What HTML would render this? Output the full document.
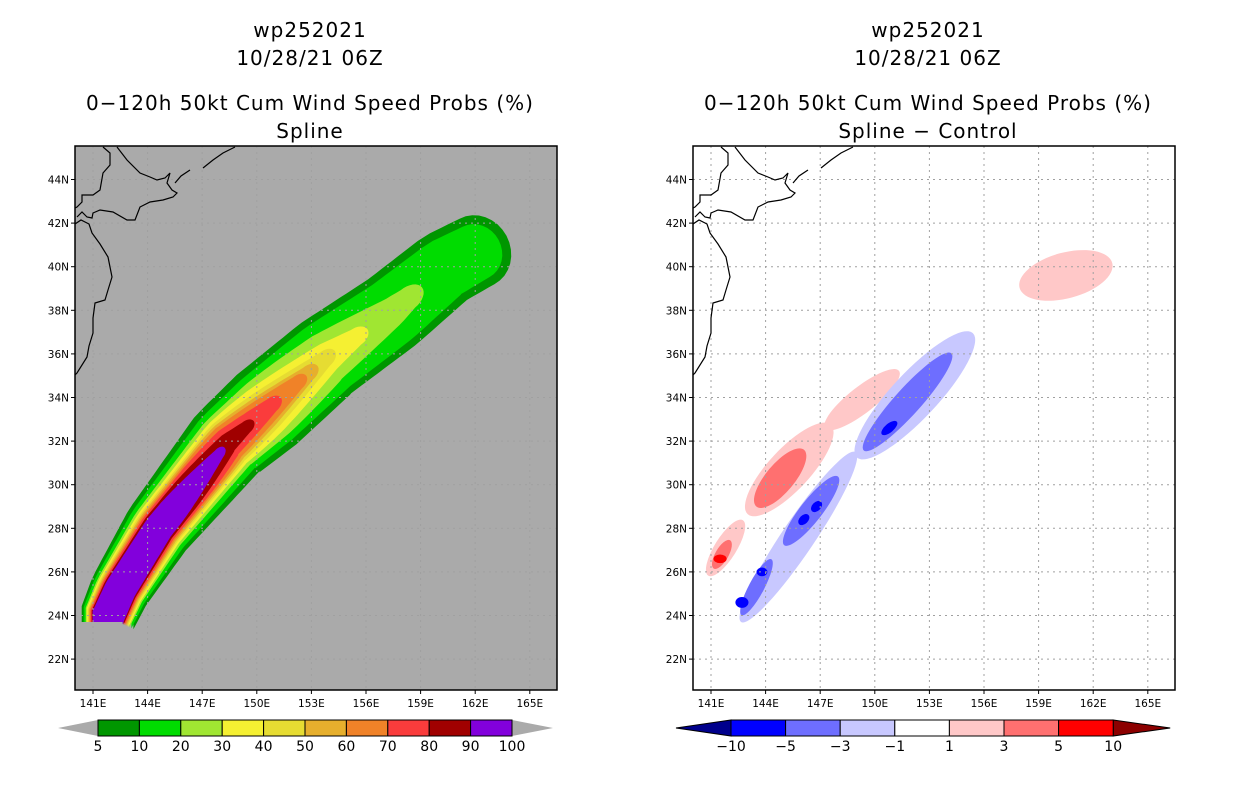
<!DOCTYPE html>
<html><head><meta charset="utf-8"><style>
body{margin:0;background:#fff}
svg{display:block}
text{font-family:"DejaVu Sans","Liberation Sans",sans-serif;fill:#000}
.t{font-size:20px;letter-spacing:1px}
.tk{font-size:10.5px}
.cb{font-size:14px}
</style></head><body>
<svg id="s" width="1236" height="800" viewBox="0 0 1236 800">
<g id="titles">
<text class="t" x="310" y="37" text-anchor="middle">wp252021</text>
<text class="t" x="310" y="65" text-anchor="middle">10/28/21 06Z</text>
<text class="t" x="310" y="110" text-anchor="middle">0−120h 50kt Cum Wind Speed Probs (%)</text>
<text class="t" x="310" y="138" text-anchor="middle">Spline</text>
<text class="t" x="928" y="37" text-anchor="middle">wp252021</text>
<text class="t" x="928" y="65" text-anchor="middle">10/28/21 06Z</text>
<text class="t" x="928" y="110" text-anchor="middle">0−120h 50kt Cum Wind Speed Probs (%)</text>
<text class="t" x="928" y="138" text-anchor="middle">Spline − Control</text>
</g>
</svg>
<script>
// ---- data ----
const lonTicks=[141,144,147,150,153,156,159,162,165];
const latTicks=[22,24,26,28,30,32,34,36,38,40,42,44];
const trackLon=[141.8,142.5,144.6,148.4,153.8,157.4,160.3,162.1];
const trackLat=[23.9,25.2,28.0,31.9,35.8,37.9,39.9,40.7];
const probLevels=[5,10,20,30,40,50,60,70,80,90];
const probEndLon=[162.1,162.0,158.3,155.4,153.7,152.8,152.2,150.8,149.4,147.9];
const probW0=[1.3,1.2,1.1,1.05,1.0,0.95,0.9,0.85,0.8,0.75];
const probWm=[2.1,1.8,1.5,1.3,1.15,1.05,0.95,0.85,0.7,0.55];
const probW1=[1.7,1.45,1.2,1.0,0.9,0.85,0.8,0.7,0.6,0.5];
const tipTaper=[0,0.1,0.6,0.65,0.65,0.65,0.65,0.6,0.6,0.6];
const probColors=['#009600','#00dc00','#a0e632','#f5f032','#e6dc32','#e6af2d','#f08228','#fa3c3c','#a00000','#8200dc'];
const probLabels=['5','10','20','30','40','50','60','70','80','90','100'];
const diffLabels=['-10','-5','-3','-1','1','3','5','10'];
const diffColors=['#0000ff','#6e6eff','#c8c8ff','#ffffff','#ffc8c8','#ff7070','#ff0000'];
// blobs: lon, lat, length(deg), width(deg), tilt(deg), level index into diffColors
const blobLon=[145.3,149.3,144.8,141.8,141.6,141.5,160.5,145.8,143.5,146.5,142.7,143.8,146.1,146.8,152.2,151.8,150.8];
const blobLat=[30.7,33.9,30.3,27.1,26.8,26.6,39.6,27.6,25.3,28.8,24.6,26.0,28.4,29.0,34.1,33.8,32.6];
const blobLen=[5.6,4.3,3.4,3.0,1.5,0.6,4.4,9.4,2.9,4.0,0.6,0.5,0.6,0.6,7.8,6.0,0.9];
const blobWid=[1.9,1.2,1.3,1.0,0.6,0.4,2.1,1.5,0.7,1.0,0.5,0.4,0.4,0.4,2.1,1.2,0.4];
const blobTilt=[-47,-38,-50,-58,-60,0,-15,-56,-62,-52,0,0,-45,-45,-47,-48,-40];
const blobLev=[4,4,5,4,5,6,4,2,1,1,0,0,0,0,2,1,0];

const NS='http://www.w3.org/2000/svg';
const svg=document.getElementById('s');
function mk(tag,attrs,parent){const e=document.createElementNS(NS,tag);for(const k in attrs)e.setAttribute(k,attrs[k]);(parent||svg).appendChild(e);return e;}
const panels=[{x0:75,name:'left'},{x0:693,name:'right'}];
const PW=482,PT=146,PH=544;
function xS(p,lon){return p.x0+18+(lon-141)*18.2;}
function yS(lat){return 179.5+(44-lat)*21.8;}

panels.forEach((p,pi)=>{
  const g=mk('g',{});
  
  
  const cid='clip'+pi;
  const cp=mk('clipPath',{id:cid},g);mk('rect',{x:p.x0,y:PT,width:PW,height:PH},cp);
  const bg=mk('rect',{x:p.x0,y:PT,width:PW,height:PH,fill:pi===0?'#aaaaaa':'#ffffff'},g);
  
  
  const body=mk('g',{'clip-path':'url(#'+cid+')'},g);
  if(pi===0){
    const P=trackLon.map((l,i)=>[xS(p,l),yS(trackLat[i])]);
    const cum=[0];for(let i=1;i<P.length;i++)cum.push(cum[i-1]+Math.hypot(P[i][0]-P[i-1][0],P[i][1]-P[i-1][1]));
    const L=cum[cum.length-1];
    function at(s){let i=1;while(i<P.length-1&&cum[i]<s)i++;
      const f=Math.min(1,(s-cum[i-1])/(cum[i]-cum[i-1]));let dx=P[i][0]-P[i-1][0],dy=P[i][1]-P[i-1][1];const d=Math.hypot(dx,dy);
      return [P[i-1][0]+f*dx,P[i-1][1]+f*dy,dx/d,dy/d];}
    probLevels.forEach((lv,k)=>{
      const xe=xS(p,probEndLon[k]);let tEnd=L;
      for(let s=0;s<=L;s+=1){if(at(s)[0]>=xe){tEnd=s;break;}}
      const N=80;const samp=[];
      for(let j=0;j<=N;j++){const s=tEnd*j/N;const a=at(s);
        const fr=j/N;const tap=fr>0.6?Math.pow((fr-0.6)/0.4,1.6):0;
        const u=s/L;const wb=u<0.5?probW0[k]+(probWm[k]-probW0[k])*u/0.5:probWm[k]+(probW1[k]-probWm[k])*(u-0.5)/0.5;
        const w=wb*21.8*(1-tipTaper[k]*tap);
        samp.push([a[0],a[1],a[2],a[3],w]);}
      const left=samp.map(s=>[s[0]+s[3]*s[4],s[1]-s[2]*s[4]]);
      const right=samp.map(s=>[s[0]-s[3]*s[4],s[1]+s[2]*s[4]]).reverse();
      const e=samp[samp.length-1];const cap=[];
      const nx=e[3],ny=-e[2];const el=tipTaper[k]>0.3?1.6:0.9;
      for(let a=1;a<16;a++){const th=Math.PI/2-Math.PI*a/16;const ca=Math.cos(th),sa=Math.sin(th);
        cap.push([e[0]+(nx*sa+e[2]*ca*el)*e[4],e[1]+(ny*sa+e[3]*ca*el)*e[4]]);}
      const bot=yS(23.7);
      const all=left.concat(cap,right,[[right[right.length-1][0],bot]],[[left[0][0],bot]]);
      const poly=mk('polygon',{points:all.map(q=>q[0].toFixed(1)+','+q[1].toFixed(1)).join(' '),fill:probColors[k]},body);
      
      
    });
  } else {
    blobLon.forEach((l,i)=>{
      const ex=mk('ellipse',{cx:xS(p,l),cy:yS(blobLat[i]),rx:blobLen[i]*21.8/2,ry:blobWid[i]*21.8/2,
        transform:'rotate('+blobTilt[i]+' '+xS(p,l)+' '+yS(blobLat[i])+')',fill:diffColors[blobLev[i]]},body);
      
      
    });
  }
  lonTicks.forEach(l=>{const ln=mk('line',{x1:xS(p,l),x2:xS(p,l),y1:PT,y2:PT+PH,stroke:'#a0a0a0','stroke-dasharray':'2,4'},body);
    });
  latTicks.forEach(l=>{const ln=mk('line',{x1:p.x0,x2:p.x0+PW,y1:yS(l),y2:yS(l),stroke:'#a0a0a0','stroke-dasharray':'2,4'},body);
    });
  const cg=mk('g',{transform:'translate('+p.x0+','+PT+')',fill:'none',stroke:'#000','stroke-width':1.2},body);
  
  mk('polyline',{points:'28,1 35,7 35,19 28,27 25,44 18,49 7,49 7,56 2,61 0,62'},cg);
  mk('polyline',{points:'42,1 52,14 65,27 75,31 82,34 90,32 95,27 92,37 97,44 102,47 98,51 88,54 75,56 65,61 60,74 52,74 38,66 25,64 18,67 17,72 12,71 7,66 2,71'},cg);
  mk('polyline',{points:'100,37 106,30 115,24'},cg);
  mk('polyline',{points:'128,22 138,14 148,7 160,1'},cg);
  mk('polyline',{points:'0,78 6,74 14,78 17,87 25,98 33,111 37,131 33,144 30,154 20,157 18,172 18,187 14,200 12,211 2,227 0,229'},cg);
  const fr=mk('rect',{x:p.x0,y:PT,width:PW,height:PH,fill:'none',stroke:'#000','stroke-width':1.5},g);
  
  lonTicks.forEach(l=>{
    mk('line',{x1:xS(p,l),x2:xS(p,l),y1:PT+PH,y2:PT+PH+4,stroke:'#000'},g);
    const t=mk('text',{x:xS(p,l),y:707,'text-anchor':'middle',class:'tk'},g);t.textContent=l+'E';
    });
  latTicks.forEach(l=>{
    mk('line',{x1:p.x0-4,x2:p.x0,y1:yS(l),y2:yS(l),stroke:'#000'},g);
    const t=mk('text',{x:p.x0-6,y:yS(l)+4,'text-anchor':'end',class:'tk'},g);t.textContent=l+'N';
    });
});

(function(){
  const g=mk('g',{});
  const x0=98,bw=41.4,y0=720,h=16;
  mk('polygon',{points:`58,728 ${x0},${y0} ${x0},${y0+h}`,fill:'#aaaaaa'},g);
  const xe=x0+bw*probColors.length;
  mk('polygon',{points:`${xe},${y0} ${xe+41},728 ${xe},${y0+h}`,fill:'#aaaaaa'},g);
  probColors.forEach((c,i)=>{const r=mk('rect',{x:x0+i*bw,y:y0,width:bw,height:h,fill:c,stroke:'#000'},g);
    });
  probLabels.forEach((s,i)=>{const t=mk('text',{x:x0+i*bw,y:751,'text-anchor':'middle',class:'cb'},g);t.textContent=s;
    });
})();
(function(){
  const g=mk('g',{});
  const x0=731,bw=54.6,y0=720,h=16;
  mk('polygon',{points:`676,728 ${x0},${y0} ${x0},${y0+h}`,fill:'#00008c',stroke:'#000'},g);
  const xe=x0+bw*diffColors.length;
  mk('polygon',{points:`${xe},${y0} ${xe+57},728 ${xe},${y0+h}`,fill:'#8c0000',stroke:'#000'},g);
  diffColors.forEach((c,i)=>{const r=mk('rect',{x:x0+i*bw,y:y0,width:bw,height:h,fill:c,stroke:'#000'},g);
    });
  diffLabels.forEach((s,i)=>{const t=mk('text',{x:x0+i*bw,y:751,'text-anchor':'middle',class:'cb'},g);t.textContent=s.replace('-','−');
    });
})();
</script>
</body></html>
